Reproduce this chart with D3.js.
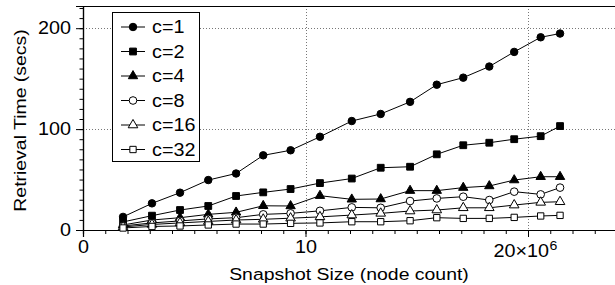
<!DOCTYPE html>
<html>
<head>
<meta charset="utf-8">
<script src="https://cdn.jsdelivr.net/npm/d3@7"></script>
<style>
  body { margin: 0; background: #fff; }
  svg { display: block; font-family: "Liberation Sans", Arial, sans-serif; }
  text { fill: #000; }
</style>
</head>
<body>
<svg></svg>
<script>
const WIDTH = 615;
const HEIGHT = 285;

// snapshot sizes (millions of nodes)
const sizes = [1.8, 3.1, 4.36, 5.63, 6.88, 8.1, 9.33, 10.65, 12.08, 13.38, 14.7, 15.9, 17.09, 18.26, 19.38, 20.57, 21.44];

const seriesNames = ["c=1", "c=2", "c=4", "c=8", "c=16", "c=32"];
const c1 = [13, 26.4, 37, 49.5, 56, 74, 79, 92.4, 108, 115, 127, 144, 151, 162, 176.5, 191, 194.7];
const c2 = [8, 14.2, 19.8, 23.8, 33.7, 37.3, 40.6, 46.5, 51, 61.7, 62.7, 75, 84, 86.5, 90, 93, 103];
const c4 = [5, 9.9, 12.2, 15.5, 17.5, 24, 23.8, 34, 30.4, 30.7, 39, 39, 42, 43.6, 49.5, 52.8, 52.8];
const c8 = [4, 7, 9, 11, 12.2, 15.5, 16.5, 19, 22.4, 22, 28.7, 31.3, 33, 29.7, 38, 35.3, 42];
const c16 = [3, 5.5, 7, 8.5, 9.9, 10.6, 11.7, 13, 14.8, 16.5, 18.8, 19.8, 22, 22, 24.7, 27.4, 28];
const c32 = [2, 3.5, 4, 5, 5.9, 5.9, 6.6, 7, 8.2, 8.2, 9.2, 12.2, 11.5, 11.5, 12.5, 13.9, 14.5];
const seriesValues = [c1, c2, c4, c8, c16, c32];

const xMajor = [0, 10, 20];
const yMajor = [0, 100, 200];

const LEFT = 83, TOP = 6, BOTTOM = 230;
const STRETCH = 1.13; // the original font is wider than Arial

const $svg = d3.select("svg").attr("width", WIDTH).attr("height", HEIGHT);

const x = d3.scaleLinear().domain([0, 24]).range([LEFT, LEFT + 24 * 22.25]);
const y = d3.scaleLinear().domain([0, 222]).range([BOTTOM, TOP]);

function widen(sel) {
  sel.each(function() {
    const w = this.getComputedTextLength();
    if (w > 0) d3.select(this).attr("textLength", w * STRETCH).attr("lengthAdjust", "spacingAndGlyphs");
  });
}

// markers: shape + fill
const markers = [
  { type: d3.symbolCircle, size: 44, fill: "#000" },
  { type: d3.symbolSquare, size: 46, fill: "#000" },
  { type: d3.symbolTriangle, size: 38, fill: "#000" },
  { type: d3.symbolCircle, size: 46, fill: "#fff" },
  { type: d3.symbolTriangle, size: 40, fill: "#fff" },
  { type: d3.symbolSquare, size: 40, fill: "#fff" }
];

// grid
const grid = $svg.append("g").attr("stroke", "#777").attr("stroke-width", 1).attr("stroke-dasharray", "1,2");
grid.selectAll("line.gx").data(xMajor.filter(d => d > 0)).enter().append("line")
  .attr("x1", d => Math.round(x(d)) + 0.5).attr("x2", d => Math.round(x(d)) + 0.5)
  .attr("y1", TOP).attr("y2", BOTTOM);
grid.selectAll("line.gy").data(yMajor.filter(d => d > 0)).enter().append("line")
  .attr("y1", d => Math.round(y(d)) + 0.5).attr("y2", d => Math.round(y(d)) + 0.5)
  .attr("x1", LEFT).attr("x2", WIDTH);

// top frame
$svg.append("line").attr("x1", LEFT).attr("x2", WIDTH).attr("y1", TOP + 0.5).attr("y2", TOP + 0.5)
  .attr("stroke", "#000").attr("stroke-width", 1.2);

// axes
const xAxisMinor = d3.axisBottom(x).tickValues(d3.range(0, 25, 1)).tickSize(4).tickFormat("");
const xAxisMajor = d3.axisBottom(x).tickValues(xMajor).tickSize(7).tickPadding(4)
  .tickFormat(d => d === 20 ? "" : d);
const gx = $svg.append("g").attr("transform", `translate(0,${BOTTOM})`);
gx.append("g").call(xAxisMinor);
gx.append("g").call(xAxisMajor);
gx.selectAll("text").attr("font-size", 17.5).attr("fill", "#000").attr("font-family", "Liberation Sans, Arial, sans-serif");
gx.selectAll(".domain").attr("stroke", "#000").attr("stroke-width", 1.2);

// 20x10^6 label
gx.append("text").attr("x", x(20) + 21).attr("y", 27).attr("text-anchor", "end")
  .attr("font-size", 17.5).text("20×10");
gx.append("text").attr("x", x(20) + 21.5).attr("y", 20).attr("font-size", 12.5).text("6");

const yAxisMinor = d3.axisLeft(y).tickValues(d3.range(0, 221, 10)).tickSize(3.5).tickFormat("");
const yAxisMajor = d3.axisLeft(y).tickValues(yMajor).tickSize(7).tickPadding(5);
const gy = $svg.append("g").attr("transform", `translate(${LEFT},0)`);
gy.append("g").call(yAxisMinor);
gy.append("g").call(yAxisMajor);
gy.selectAll("text").attr("font-size", 17.5).attr("fill", "#000").attr("font-family", "Liberation Sans, Arial, sans-serif");
gy.selectAll(".domain").attr("stroke", "#000").attr("stroke-width", 1.2);

// axis titles
$svg.append("text").attr("x", 349).attr("y", 280).attr("text-anchor", "middle")
  .attr("font-size", 17.2).text("Snapshot Size (node count)");
$svg.append("text").attr("transform", `translate(26,120.5) rotate(-90)`)
  .attr("text-anchor", "middle").attr("font-size", 17.2).text("Retrieval Time (secs)");

// series
const line = d3.line().x((d, i) => x(sizes[i])).y(d => y(d));
seriesValues.forEach((vals, s) => {
  const g = $svg.append("g");
  g.append("path").datum(vals).attr("d", line).attr("fill", "none").attr("stroke", "#000").attr("stroke-width", 1);
  g.selectAll("path.m").data(vals).enter().append("path")
    .attr("transform", (d, i) => `translate(${x(sizes[i])},${y(d)})`)
    .attr("d", d3.symbol().type(markers[s].type).size(markers[s].size))
    .attr("fill", markers[s].fill).attr("stroke", "#000").attr("stroke-width", 1);
});

// legend
const legend = $svg.append("g");
legend.append("rect").attr("x", 112.5).attr("y", 12.5).attr("width", 87).attr("height", 149)
  .attr("fill", "#fff").attr("stroke", "#000").attr("stroke-width", 1);
seriesNames.forEach((name, s) => {
  const cy = 27 + s * 24.5;
  legend.append("line").attr("x1", 121).attr("x2", 145).attr("y1", cy).attr("y2", cy).attr("stroke", "#000");
  legend.append("path").attr("transform", `translate(133,${cy})`)
    .attr("d", d3.symbol().type(markers[s].type).size(markers[s].size))
    .attr("fill", markers[s].fill).attr("stroke", "#000");
  legend.append("text").attr("x", 152).attr("y", cy).attr("dy", "0.36em").attr("font-size", 17.5).text(name);
});

widen($svg.selectAll("text"));
</script>
</body>
</html>
